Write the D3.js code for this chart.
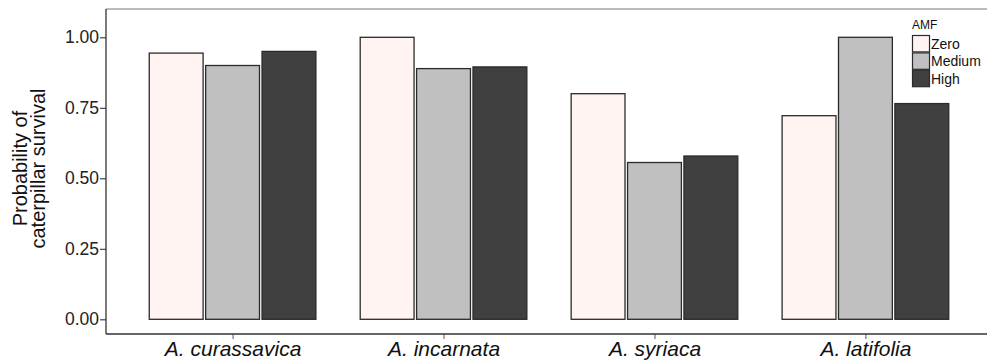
<!DOCTYPE html>
<html>
<head>
<meta charset="utf-8">
<script src="https://cdn.jsdelivr.net/npm/d3@7"></script>
<style>
  html, body { margin: 0; padding: 0; background: #fff; }
  svg { display: block; }
</style>
</head>
<body>
<div id="chart"></div>
<script>
const species = ['A. curassavica', 'A. incarnata', 'A. syriaca', 'A. latifolia'];
const amfLevels = ['Zero', 'Medium', 'High'];
const zeroValues = [0.944, 1.0, 0.8, 0.722];
const mediumValues = [0.9, 0.889, 0.556, 1.0];
const highValues = [0.95, 0.895, 0.579, 0.765];
const yTicks = [0, 0.25, 0.5, 0.75, 1.0];

const seriesValues = [zeroValues, mediumValues, highValues];
const fills = ['#fff4f2', '#c0c0c0', '#404040'];

const width = 987, height = 360;
const margin = { top: 9, left: 106, bottom: 26 };
// panel runs a bit past the right edge of the picture
const panelRight = 992;

const svg = d3.select('#chart').append('svg')
  .attr('width', width)
  .attr('height', height);

const x = d3.scalePoint()
  .domain(species)
  .range([margin.left, panelRight])
  .padding(0.6);

const y = d3.scaleLinear()
  .domain([0, 1])
  .range([319.3, 37.3]);

const groupStep = x.step();
const barOffset = d3.scaleBand()
  .domain(amfLevels)
  .range([-groupStep * 0.395, groupStep * 0.395])
  .paddingInner(0.045);

const rows = [];
species.forEach((s, i) => {
  amfLevels.forEach((a, j) => {
    rows.push({ species: s, amf: a, value: seriesValues[j][i], color: fills[j] });
  });
});

// top frame line
svg.append('line')
  .attr('x1', margin.left).attr('x2', width)
  .attr('y1', margin.top).attr('y2', margin.top)
  .attr('stroke', '#777').attr('stroke-width', 1.2);

svg.append('g').attr('class', 'bars')
  .selectAll('rect')
  .data(rows)
  .enter()
  .append('rect')
  .attr('x', d => x(d.species) + barOffset(d.amf))
  .attr('width', barOffset.bandwidth())
  .attr('y', d => y(d.value))
  .attr('height', d => y(0) - y(d.value))
  .attr('fill', d => d.color)
  .attr('stroke', '#2a2a2a')
  .attr('stroke-width', 1.3);

const panelBottom = height - margin.bottom;

// y axis
const yAxis = svg.append('g')
  .attr('transform', `translate(${margin.left},0)`)
  .call(d3.axisLeft(y).tickValues(yTicks).tickFormat(d3.format('.2f')).tickSize(6).tickSizeOuter(0));
yAxis.select('.domain').remove();
yAxis.append('line')
  .attr('x1', 0).attr('x2', 0)
  .attr('y1', margin.top).attr('y2', panelBottom)
  .attr('stroke', '#333').attr('stroke-width', 1.3);
yAxis.selectAll('.tick line').attr('stroke', '#333').attr('stroke-width', 1.1);
yAxis.selectAll('.tick text')
  .attr('x', -7)
  .attr('font-family', 'Liberation Sans, Arial, sans-serif')
  .attr('font-size', 17.5)
  .attr('fill', '#222');

// x axis
const xAxis = svg.append('g')
  .attr('transform', `translate(0,${panelBottom})`)
  .call(d3.axisBottom(x).tickSize(5).tickSizeOuter(0));
xAxis.select('.domain').remove();
xAxis.append('line')
  .attr('x1', margin.left).attr('x2', width)
  .attr('y1', 0).attr('y2', 0)
  .attr('stroke', '#333').attr('stroke-width', 1.3);
xAxis.selectAll('.tick line').attr('stroke', '#555').attr('stroke-width', 1);
xAxis.selectAll('.tick text')
  .attr('y', 7)
  .attr('font-family', 'Liberation Sans, Arial, sans-serif')
  .attr('font-style', 'italic')
  .attr('font-size', 21)
  .attr('fill', '#111');

// y title
const yTitle = svg.append('text')
  .attr('transform', `translate(0,${(margin.top + panelBottom) / 2 - 3}) rotate(-90)`)
  .attr('text-anchor', 'middle')
  .attr('font-family', 'Liberation Sans, Arial, sans-serif')
  .attr('font-size', 20)
  .attr('fill', '#111');
yTitle.append('tspan').attr('x', 0).attr('y', 27).text('Probability of');
yTitle.append('tspan').attr('x', 0).attr('y', 45).text('caterpillar survival');

// legend
const legend = svg.append('g').attr('transform', 'translate(912,0)');
legend.append('text')
  .attr('x', 0).attr('y', 29)
  .attr('font-family', 'Liberation Sans, Arial, sans-serif')
  .attr('font-size', 12)
  .attr('fill', '#111')
  .text('AMF');
const keys = legend.selectAll('g.key')
  .data(amfLevels)
  .enter()
  .append('g')
  .attr('class', 'key')
  .attr('transform', (d, i) => `translate(0,${35 + i * 17.4})`);
keys.append('rect')
  .attr('x', 0.5).attr('y', 0.5)
  .attr('width', 17).attr('height', 16.4)
  .attr('fill', (d, i) => fills[i])
  .attr('stroke', '#2a2a2a')
  .attr('stroke-width', 1.2);
keys.append('text')
  .attr('x', 19).attr('y', 14)
  .attr('font-family', 'Liberation Sans, Arial, sans-serif')
  .attr('font-size', 14)
  .attr('fill', '#111')
  .text(d => d);
</script>
</body>
</html>
